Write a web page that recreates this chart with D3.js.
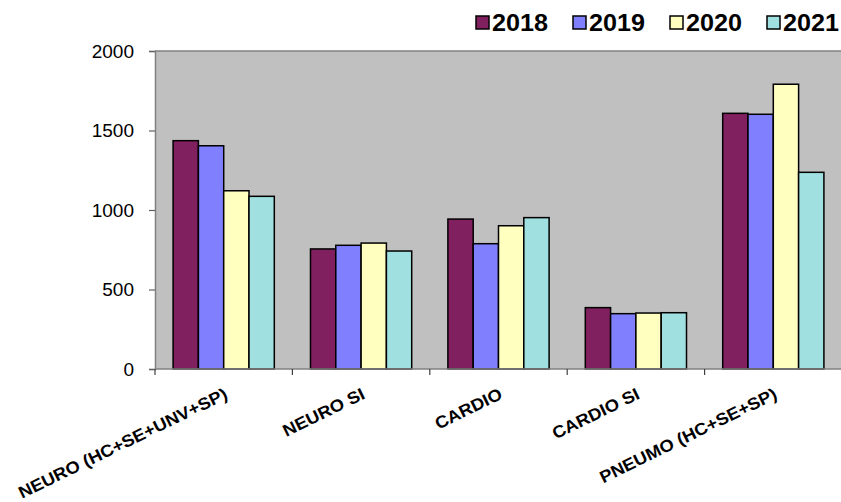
<!DOCTYPE html>
<html>
<head>
<meta charset="utf-8">
<script src="https://cdn.jsdelivr.net/npm/d3@7"></script>
<style>
  html, body { margin: 0; padding: 0; background: #fff; }
  svg { display: block; font-family: "Liberation Sans", Arial, sans-serif; }
</style>
</head>
<body>
<svg id="chart" width="841" height="502"></svg>
<script>
// Categories along the x axis
const categories = ["NEURO (HC+SE+UNV+SP)", "NEURO SI", "CARDIO", "CARDIO SI", "PNEUMO (HC+SE+SP)"];
// Years (one bar per year in each category)
const years = ["2018", "2019", "2020", "2021"];
// Values per year, in category order
const values2018 = [1436, 755, 943, 386, 1608];
const values2019 = [1404, 778, 788, 348, 1602];
const values2020 = [1121, 792, 901, 352, 1791];
const values2021 = [1086, 742, 952, 354, 1237];
const yTicks = [0, 500, 1000, 1500, 2000];
const colors = ["#80205f", "#8080ff", "#ffffc0", "#a0e0e0"];

const seriesValues = [values2018, values2019, values2020, values2021];
const rows = categories.map((c, i) => ({
  category: c,
  bars: years.map((y, j) => ({ year: y, value: seriesValues[j][i], color: colors[j] }))
}));

const svg = d3.select("#chart");
const plot = { left: 155, right: 842, top: 51, bottom: 369 };

const x = d3.scaleBand().domain(categories).range([plot.left, plot.right]).padding(0);
const xInner = d3.scaleBand().domain(years).range([0, x.bandwidth()])
  .paddingInner(0).paddingOuter(0.715);
const y = d3.scaleLinear().domain([0, 2000]).range([plot.bottom, plot.top]);

// Plot area background
svg.append("rect")
  .attr("x", plot.left).attr("y", plot.top)
  .attr("width", plot.right - plot.left).attr("height", plot.bottom - plot.top)
  .attr("fill", "#c0c0c0");
svg.append("line")
  .attr("x1", plot.left).attr("x2", plot.right)
  .attr("y1", plot.top).attr("y2", plot.top)
  .attr("stroke", "#808080").attr("stroke-width", 1.5);

// Bars
const groups = svg.append("g").selectAll("g")
  .data(rows).join("g")
  .attr("transform", d => `translate(${x(d.category)},0)`);
groups.selectAll("rect")
  .data(d => d.bars).join("rect")
  .attr("x", d => xInner(d.year))
  .attr("y", d => y(d.value))
  .attr("width", xInner.bandwidth())
  .attr("height", d => y(0) - y(d.value))
  .attr("fill", d => d.color)
  .attr("stroke", "#000")
  .attr("stroke-width", 1.5);

// Y axis
const yAxis = svg.append("g")
  .attr("transform", `translate(${plot.left},0)`)
  .call(d3.axisLeft(y).tickValues(yTicks).tickSize(6).tickPadding(15).tickFormat(d3.format("d")));
yAxis.select(".domain").attr("stroke", "#808080").attr("stroke-width", 1.5);
yAxis.selectAll(".tick line").attr("stroke", "#606060").attr("stroke-width", 1.2);
yAxis.selectAll(".tick text")
  .attr("font-size", 19).attr("fill", "#000")
  .attr("font-family", "'Liberation Sans', Arial, sans-serif");

// X axis: baseline and tick marks at category boundaries
svg.append("line")
  .attr("x1", plot.left).attr("x2", plot.right)
  .attr("y1", y(0)).attr("y2", y(0))
  .attr("stroke", "#808080").attr("stroke-width", 1.5);
const boundaries = categories.map(c => x(c));
svg.append("g").selectAll("line")
  .data(boundaries).join("line")
  .attr("x1", d => d).attr("x2", d => d)
  .attr("y1", y(0)).attr("y2", y(0) + 6)
  .attr("stroke", "#404040").attr("stroke-width", 1.2);

// Rotated category labels
svg.append("g").selectAll("text")
  .data(categories).join("text")
  .attr("transform", c => `translate(${x(c) + x.bandwidth() / 2 + 5},398) rotate(-26) scale(1.08,1)`)
  .attr("text-anchor", "end")
  .attr("font-size", 17)
  .attr("font-weight", "bold")
  .attr("fill", "#000")
  .text(c => c);

// Legend
const legend = svg.append("g").selectAll("g")
  .data(years).join("g")
  .attr("transform", (d, i) => `translate(${476 + i * 97},16)`);
legend.append("rect")
  .attr("width", 13).attr("height", 13)
  .attr("fill", (d, i) => colors[i])
  .attr("stroke", "#000").attr("stroke-width", 1.5);
legend.append("text")
  .attr("x", 16).attr("y", 14.5)
  .attr("font-size", 24).attr("font-weight", "bold")
  .attr("fill", "#000")
  .attr("textLength", 56).attr("lengthAdjust", "spacingAndGlyphs")
  .text(d => d);
</script>
</body>
</html>
